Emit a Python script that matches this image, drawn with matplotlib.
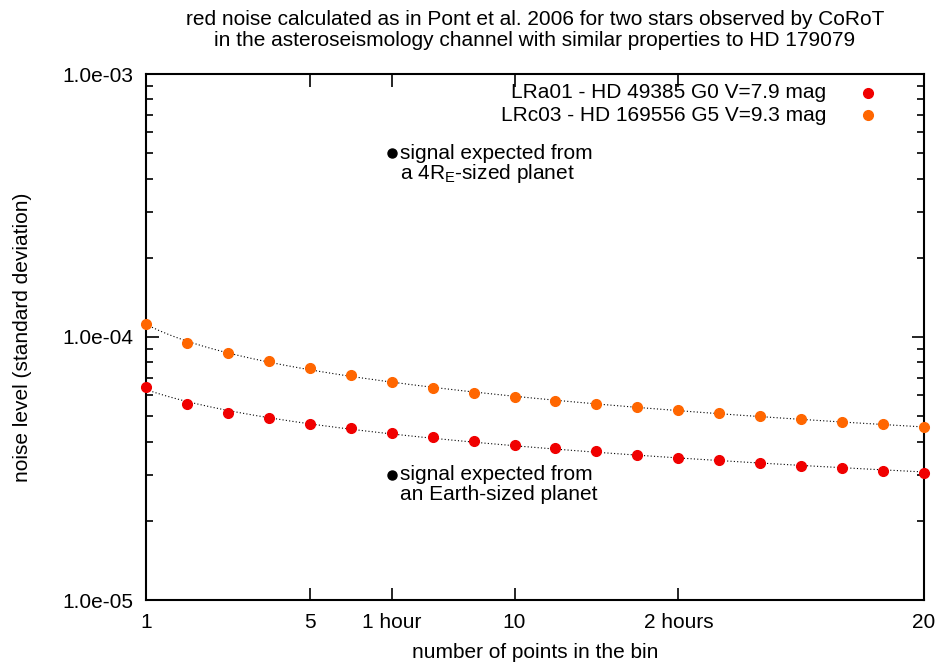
import numpy as np
import matplotlib
matplotlib.use("Agg")
import matplotlib.pyplot as plt
from matplotlib.ticker import LogLocator, NullFormatter

plt.rcParams['font.family'] = ['Liberation Sans', 'DejaVu Sans']
plt.rcParams['mathtext.fontset'] = 'custom'
plt.rcParams['mathtext.rm'] = 'Liberation Sans'
plt.rcParams['mathtext.it'] = 'Liberation Sans'

FS = 15

# number of points in the bin
npts = np.arange(1, 21)

# LRa01 - HD 49385 (red)
noise_lra01 = [6.44e-5, 5.54e-5, 5.16e-5, 4.90e-5, 4.68e-5, 4.49e-5, 4.31e-5,
               4.16e-5, 4.02e-5, 3.89e-5, 3.77e-5, 3.67e-5, 3.57e-5, 3.47e-5,
               3.40e-5, 3.31e-5, 3.24e-5, 3.17e-5, 3.10e-5, 3.03e-5]
# LRc03 - HD 169556 (orange)
noise_lrc03 = [1.122e-4, 9.50e-5, 8.71e-5, 8.09e-5, 7.59e-5, 7.14e-5, 6.77e-5,
               6.41e-5, 6.14e-5, 5.89e-5, 5.70e-5, 5.54e-5, 5.40e-5, 5.26e-5,
               5.13e-5, 5.00e-5, 4.87e-5, 4.77e-5, 4.65e-5, 4.54e-5]
series_names = ["LRa01 - HD 49385 G0 V=7.9 mag", "LRc03 - HD 169556 G5 V=9.3 mag"]
series_colors = ['#f00000', '#ff6600']

# expected planet signals
signal_x = [7, 7]
signal_y = [5.0e-4, 3.0e-5]
signal_line1 = ["signal expected from", "signal expected from"]
signal_line2 = ["a 4R$_{\\mathrm{E}}$-sized planet", "an Earth-sized planet"]

xtick_pos = [1, 5, 7, 10, 14, 20]
xtick_lab = ["1", "5", "1 hour", "10", "2 hours", "20"]

fig = plt.figure(figsize=(9.38, 6.63), dpi=100)
ax = fig.add_axes([146 / 938, 63 / 663, 778 / 938, 526 / 663])

# dotted fit curves (quadratic in log-log space)
xf = np.linspace(1, 20, 300)
for ys in (noise_lra01, noise_lrc03):
    c = np.polyfit(np.log(npts), np.log(ys), 2)
    ax.plot(xf, np.exp(np.polyval(c, np.log(xf))), color='black',
            linestyle=(0, (1, 2)), linewidth=0.8, zorder=2)

for ys, col in zip((noise_lra01, noise_lrc03), series_colors):
    ax.plot(npts, ys, 'o', color=col, markersize=7, zorder=3, clip_on=False)

# key, drawn by hand like gnuplot's
for i, (name, col) in enumerate(zip(series_names, series_colors)):
    yk = 0.964 - i * 0.042
    ax.text(0.874, yk, name, transform=ax.transAxes, ha='right', va='center',
            fontsize=FS)
    ax.plot([0.928], [yk], 'o', color=col, markersize=7, transform=ax.transAxes)

ax.plot(signal_x, signal_y, 'o', color='black', markersize=6.5, zorder=3)
for sx, sy, l1, l2 in zip(signal_x, signal_y, signal_line1, signal_line2):
    ax.annotate(l1, (sx, sy), xytext=(6, 0), textcoords='offset points',
                va='center', ha='left', fontsize=FS)
    ax.annotate(l2, (sx, sy), xytext=(6, -14.5), textcoords='offset points',
                va='center', ha='left', fontsize=FS)

ax.set_yscale('log')
ax.set_xlim(1, 20)
ax.set_ylim(1e-5, 1e-3)

ax.set_xticks(xtick_pos)
ax.set_xticklabels(xtick_lab)
ax.set_yticks([1e-5, 1e-4, 1e-3])
ax.set_yticklabels(["1.0e-05", "1.0e-04", "1.0e-03"])
ax.yaxis.set_minor_locator(LogLocator(base=10, subs=np.arange(2, 10)))
ax.yaxis.set_minor_formatter(NullFormatter())
ax.tick_params(which='both', direction='in', top=True, right=True,
               labelsize=FS, width=1.2, pad=9)
ax.tick_params(which='major', length=9)
ax.tick_params(which='minor', length=5)
for s in ax.spines.values():
    s.set_linewidth(1.5)

ax.set_xlabel("number of points in the bin", fontsize=FS)
ax.xaxis.set_label_coords(0.5, -0.082)
ax.set_ylabel("noise level (standard deviation)", fontsize=FS)
ax.yaxis.set_label_coords(-0.146, 0.5)
ax.set_title("red noise calculated as in Pont et al. 2006 for two stars observed by CoRoT\n"
             "in the asteroseismology channel with similar properties to HD 179079",
             fontsize=FS, pad=20, linespacing=1.12)

fig.savefig("out.png", dpi=100)
